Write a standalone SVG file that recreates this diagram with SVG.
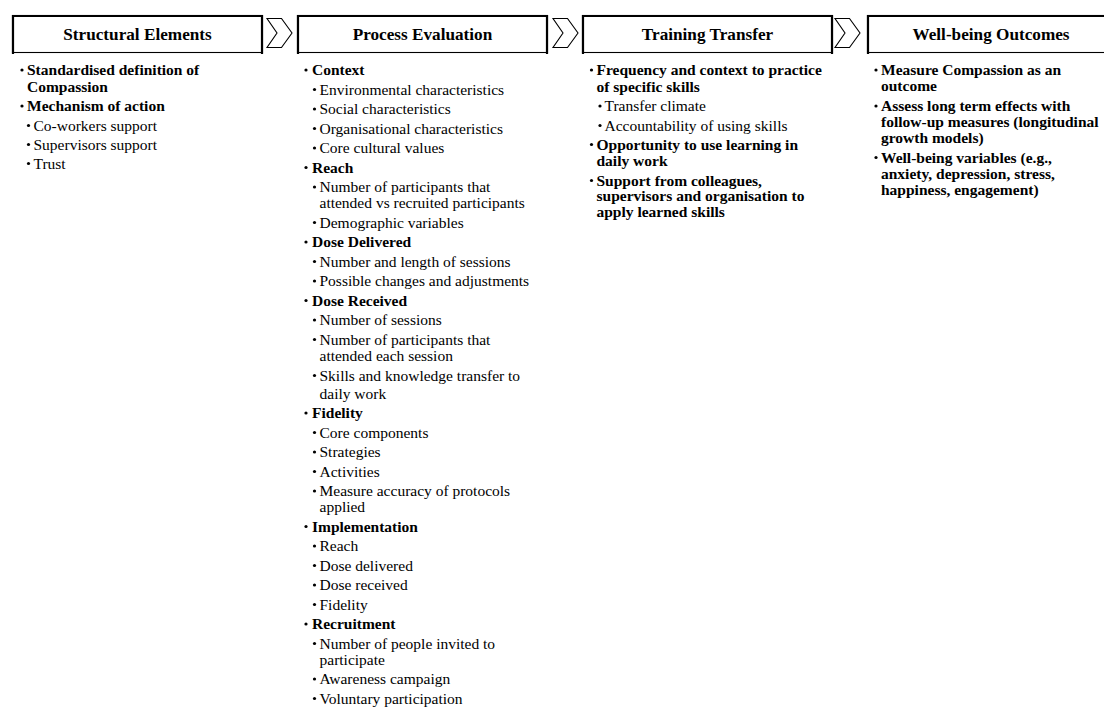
<svg xmlns="http://www.w3.org/2000/svg" width="1104" height="707" viewBox="0 0 1104 707">
  <style>
    .frame { fill: #ffffff; stroke: #000000; stroke-width: 1.1; }
    .edge { fill: none; stroke: #000000; stroke-width: 2.2; }
    .title { font-family: "Liberation Serif", "Times New Roman", serif; font-weight: bold; font-size: 17.2px; fill: #000000; text-anchor: middle; }
    .t { font-family: "Liberation Serif", "Times New Roman", serif; font-size: 15.5px; fill: #000000; }
    .b { font-weight: bold; }
    .dot { fill: #000000; }
    .chev { fill: #ffffff; stroke: #000000; stroke-width: 1.1; stroke-linejoin: miter; }
  </style>
  <defs>
    <circle id="bullet" r="1.6" class="dot"/>
  </defs>
  <rect width="1104" height="707" fill="#ffffff"/>

  <!-- chevrons between the stage headers -->
  <g id="connectors">
    <polygon class="chev" points="267,18.5 281.5,18.5 292,33 281.5,47.5 267,47.5 277,33"/>
    <polygon class="chev" points="553,18.5 567.5,18.5 578,33 567.5,47.5 553,47.5 563,33"/>
    <polygon class="chev" points="835,18.5 849.5,18.5 860,33 849.5,47.5 835,47.5 845,33"/>
  </g>

  <!-- Stage 1 -->
  <g id="structural-elements">
    <rect class="frame" x="12.5" y="15.5" width="250" height="37"/>
    <path class="edge" d="M13,54 V16 H262 V54"/>
    <text class="title" x="137.5" y="39.5">Structural Elements</text>
    <use href="#bullet" x="22" y="70"/>
    <text class="t b" x="27" y="75">Standardised definition of</text>
    <text class="t b" x="27" y="91.5">Compassion</text>
    <use href="#bullet" x="22" y="106"/>
    <text class="t b" x="27" y="111">Mechanism of action</text>
    <use href="#bullet" x="28.5" y="125.5"/>
    <text class="t" x="33.5" y="130.5">Co-workers support</text>
    <use href="#bullet" x="28.5" y="144.5"/>
    <text class="t" x="33.5" y="149.5">Supervisors support</text>
    <use href="#bullet" x="28.5" y="163.5"/>
    <text class="t" x="33.5" y="168.5">Trust</text>
  </g>

  <!-- Stage 2 -->
  <g id="process-evaluation">
    <rect class="frame" x="297.5" y="15.5" width="250" height="37"/>
    <path class="edge" d="M298,54 V16 H547 V54"/>
    <text class="title" x="422.5" y="39.5">Process Evaluation</text>

    <use href="#bullet" x="306" y="70"/>
    <text class="t b" x="312" y="75">Context</text>
    <use href="#bullet" x="314.5" y="89.5"/>
    <text class="t" x="319.5" y="94.5">Environmental characteristics</text>
    <use href="#bullet" x="314.5" y="109"/>
    <text class="t" x="319.5" y="114">Social characteristics</text>
    <use href="#bullet" x="314.5" y="128.5"/>
    <text class="t" x="319.5" y="133.5">Organisational characteristics</text>
    <use href="#bullet" x="314.5" y="148"/>
    <text class="t" x="319.5" y="153">Core cultural values</text>

    <use href="#bullet" x="306" y="167.5"/>
    <text class="t b" x="312" y="172.5">Reach</text>
    <use href="#bullet" x="314.5" y="187"/>
    <text class="t" x="319.5" y="192">Number of participants that</text>
    <text class="t" x="319.5" y="208">attended vs recruited participants</text>
    <use href="#bullet" x="314.5" y="222.5"/>
    <text class="t" x="319.5" y="227.5">Demographic variables</text>

    <use href="#bullet" x="306" y="242"/>
    <text class="t b" x="312" y="247">Dose Delivered</text>
    <use href="#bullet" x="314.5" y="261.5"/>
    <text class="t" x="319.5" y="266.5">Number and length of sessions</text>
    <use href="#bullet" x="314.5" y="281"/>
    <text class="t" x="319.5" y="286">Possible changes and adjustments</text>

    <use href="#bullet" x="306" y="300.5"/>
    <text class="t b" x="312" y="305.5">Dose Received</text>
    <use href="#bullet" x="314.5" y="320"/>
    <text class="t" x="319.5" y="325">Number of sessions</text>
    <use href="#bullet" x="314.5" y="339.5"/>
    <text class="t" x="319.5" y="344.5">Number of participants that</text>
    <text class="t" x="319.5" y="361">attended each session</text>
    <use href="#bullet" x="314.5" y="375.5"/>
    <text class="t" x="319.5" y="380.5">Skills and knowledge transfer to</text>
    <text class="t" x="319.5" y="398.5">daily work</text>

    <use href="#bullet" x="306" y="413"/>
    <text class="t b" x="312" y="418">Fidelity</text>
    <use href="#bullet" x="314.5" y="432.5"/>
    <text class="t" x="319.5" y="437.5">Core components</text>
    <use href="#bullet" x="314.5" y="452"/>
    <text class="t" x="319.5" y="457">Strategies</text>
    <use href="#bullet" x="314.5" y="471.5"/>
    <text class="t" x="319.5" y="476.5">Activities</text>
    <use href="#bullet" x="314.5" y="491"/>
    <text class="t" x="319.5" y="496">Measure accuracy of protocols</text>
    <text class="t" x="319.5" y="512">applied</text>

    <use href="#bullet" x="306" y="526.5"/>
    <text class="t b" x="312" y="531.5">Implementation</text>
    <use href="#bullet" x="314.5" y="546"/>
    <text class="t" x="319.5" y="551">Reach</text>
    <use href="#bullet" x="314.5" y="565.5"/>
    <text class="t" x="319.5" y="570.5">Dose delivered</text>
    <use href="#bullet" x="314.5" y="585"/>
    <text class="t" x="319.5" y="590">Dose received</text>
    <use href="#bullet" x="314.5" y="604.5"/>
    <text class="t" x="319.5" y="609.5">Fidelity</text>

    <use href="#bullet" x="306" y="624"/>
    <text class="t b" x="312" y="629">Recruitment</text>
    <use href="#bullet" x="314.5" y="643.5"/>
    <text class="t" x="319.5" y="648.5">Number of people invited to</text>
    <text class="t" x="319.5" y="664.5">participate</text>
    <use href="#bullet" x="314.5" y="679"/>
    <text class="t" x="319.5" y="684">Awareness campaign</text>
    <use href="#bullet" x="314.5" y="698.5"/>
    <text class="t" x="319.5" y="703.5">Voluntary participation</text>
  </g>

  <!-- Stage 3 -->
  <g id="training-transfer">
    <rect class="frame" x="582.5" y="15.5" width="250" height="37"/>
    <path class="edge" d="M583,54 V16 H832 V54"/>
    <text class="title" x="707.5" y="39.5">Training Transfer</text>
    <use href="#bullet" x="591.5" y="70"/>
    <text class="t b" x="596.5" y="75">Frequency and context to practice</text>
    <text class="t b" x="596.5" y="91.5">of specific skills</text>
    <use href="#bullet" x="600" y="106"/>
    <text class="t" x="604.5" y="111">Transfer climate</text>
    <use href="#bullet" x="600" y="125.5"/>
    <text class="t" x="604.5" y="130.5">Accountability of using skills</text>
    <use href="#bullet" x="591.5" y="144.5"/>
    <text class="t b" x="596.5" y="149.5">Opportunity to use learning in</text>
    <text class="t b" x="596.5" y="166">daily work</text>
    <use href="#bullet" x="591.5" y="180.5"/>
    <text class="t b" x="596.5" y="185.5">Support from colleagues,</text>
    <text class="t b" x="596.5" y="201">supervisors and organisation to</text>
    <text class="t b" x="596.5" y="217">apply learned skills</text>
  </g>

  <!-- Stage 4 -->
  <g id="well-being-outcomes">
    <rect class="frame" x="867.5" y="15.5" width="250" height="37"/>
    <path class="edge" d="M868,54 V16 H1110"/>
    <text class="title" x="991" y="39.5">Well-being Outcomes</text>
    <use href="#bullet" x="876" y="70"/>
    <text class="t b" x="881" y="75">Measure Compassion as an</text>
    <text class="t b" x="881" y="91">outcome</text>
    <use href="#bullet" x="876" y="106"/>
    <text class="t b" x="881" y="111">Assess long term effects with</text>
    <text class="t b" x="881" y="127">follow-up measures (longitudinal</text>
    <text class="t b" x="881" y="143">growth models)</text>
    <use href="#bullet" x="876" y="157.5"/>
    <text class="t b" x="881" y="162.5">Well-being variables (e.g.,</text>
    <text class="t b" x="881" y="178.5">anxiety, depression, stress,</text>
    <text class="t b" x="881" y="194.5">happiness, engagement)</text>
  </g>
</svg>
